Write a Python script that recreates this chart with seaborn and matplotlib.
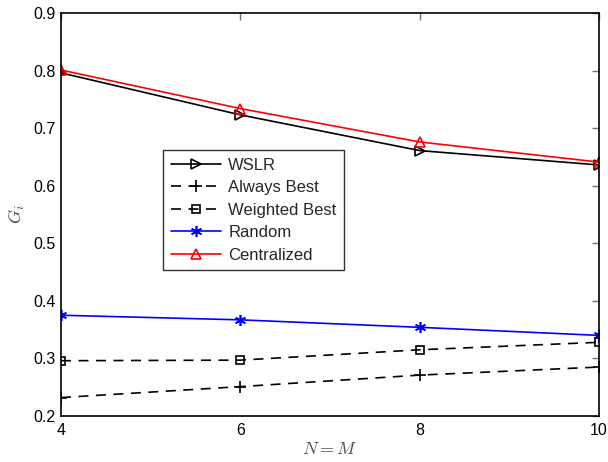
import matplotlib
matplotlib.use("Agg")
import matplotlib.pyplot as plt
import numpy as np
import pandas as pd
import seaborn as sns

# values
n_values = [4, 6, 8, 10]
wslr = [0.796, 0.723, 0.661, 0.636]
always_best = [0.232, 0.251, 0.271, 0.285]
weighted_best = [0.296, 0.297, 0.315, 0.328]
random_sel = [0.375, 0.367, 0.354, 0.340]
centralized = [0.801, 0.734, 0.676, 0.641]

sns.set_style("white")
plt.rcParams['font.family'] = ['Liberation Sans', 'DejaVu Sans']
plt.rcParams['mathtext.fontset'] = 'cm'

fig = plt.figure(figsize=(6.08, 4.62), dpi=100)
ax = fig.add_axes([0.1003, 0.0996, 0.8849, 0.8723])

dash = (0, (6, 4.5))
series = [
    ("WSLR", wslr, "black", ">", "-", 7),
    ("Always Best", always_best, "black", "+", dash, 8),
    ("Weighted Best", weighted_best, "black", "s", dash, 6),
    ("Random", random_sel, "blue", (6, 2, 0), "-", 8),
    ("Centralized", centralized, "red", "^", "-", 7.5),
]

for name, vals, col, mk, ls, ms in series:
    df = pd.DataFrame({"N": n_values, "G": vals})
    sns.lineplot(data=df, x="N", y="G", ax=ax, color=col, marker=mk,
                 linestyle=ls, linewidth=1.2, markersize=ms,
                 markerfacecolor="none", markeredgecolor=col,
                 markeredgewidth=1.2, label=name)

ax.set_xlim(4, 10)
ax.set_ylim(0.2, 0.9)
ax.set_xticks([4, 6, 8, 10])
ax.set_yticks(np.arange(0.2, 0.91, 0.1))
ax.set_yticklabels(["0.2", "0.3", "0.4", "0.5", "0.6", "0.7", "0.8", "0.9"])
ax.tick_params(direction="in", length=5, width=1, top=True, right=True,
               labelsize=11.5, color="0.45", labelcolor="black")
ax.tick_params(axis="x", pad=5)
ax.tick_params(axis="y", pad=4)
for sp in ax.spines.values():
    sp.set_color("black")
    sp.set_linewidth(1.2)

ax.set_xlabel("$N = M$", fontsize=13, color="0.3", labelpad=2)
ax.set_ylabel("$G_i$", fontsize=13, color="0.3", labelpad=4)

leg = ax.legend(loc="upper left", bbox_to_anchor=(0.190, 0.660), fontsize=12,
                frameon=True, fancybox=False, edgecolor="black",
                handlelength=3.0, handletextpad=0.45, labelspacing=0.45,
                borderpad=0.45, borderaxespad=0)
leg.get_frame().set_linewidth(1.0)

fig.savefig("out.png", dpi=100)
